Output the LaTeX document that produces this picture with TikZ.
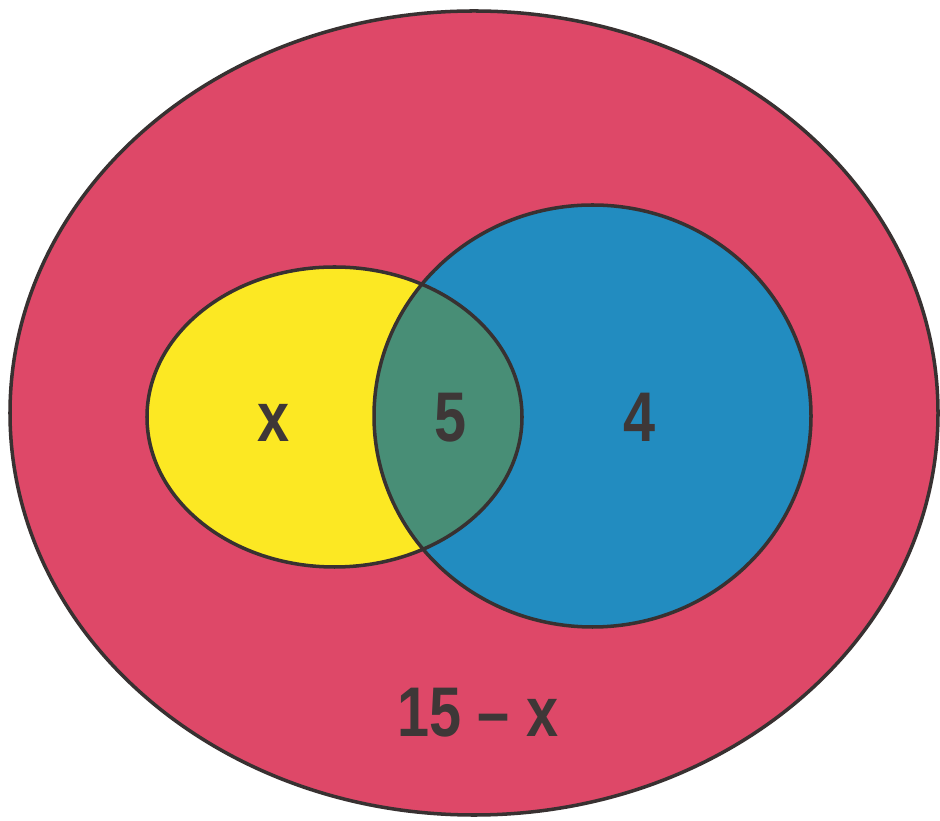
\documentclass[tikz,border=0pt]{standalone}
\usepackage{fontspec}
\setmainfont{Liberation Sans}
\usetikzlibrary{positioning}
\definecolor{vred}{RGB}{222,72,104}
\definecolor{vyellow}{RGB}{252,232,35}
\definecolor{vblue}{RGB}{34,140,192}
\definecolor{vgreen}{RGB}{72,142,118}
\definecolor{vtext}{RGB}{62,55,55}

\begin{document}
\begin{tikzpicture}[line width=2pt,
  lbl/.style={anchor=base, text=vtext, inner sep=0pt,
    font=\fontsize{40}{40}\selectfont\bfseries, xscale=0.82}]
  \useasboundingbox (0,0) rectangle (18.8,16.4);
  \fill[white] (0,0) rectangle (18.8,16.4);

  \fill[vred] (9.48,8.14) ellipse [x radius=9.28, y radius=8.04];
  \fill[vyellow] (6.69,8.06) ellipse [x radius=3.75, y radius=3.0];
  \fill[vblue] (11.85,8.08) ellipse [x radius=4.37, y radius=4.22];
  \begin{scope}
    \clip (6.69,8.06) ellipse [x radius=3.75, y radius=3.0];
    \fill[vgreen] (11.85,8.08) ellipse [x radius=4.37, y radius=4.22];
  \end{scope}

  \draw[vtext!90!black] (9.48,8.14) ellipse [x radius=9.28, y radius=8.04];
  \draw[vtext!90!black] (6.69,8.06) ellipse [x radius=3.75, y radius=3.0];
  \draw[vtext!90!black] (11.85,8.08) ellipse [x radius=4.37, y radius=4.22];

  \node[lbl] (onlyA) at (5.48,7.56) {x};
  \node[lbl] (both) at (9.02,7.56) {5};
  \node[lbl] (onlyB) at (12.8,7.56) {4};
  \node[lbl] (outside) at (9.56,1.66) {15 – x};
\end{tikzpicture}
\end{document}
